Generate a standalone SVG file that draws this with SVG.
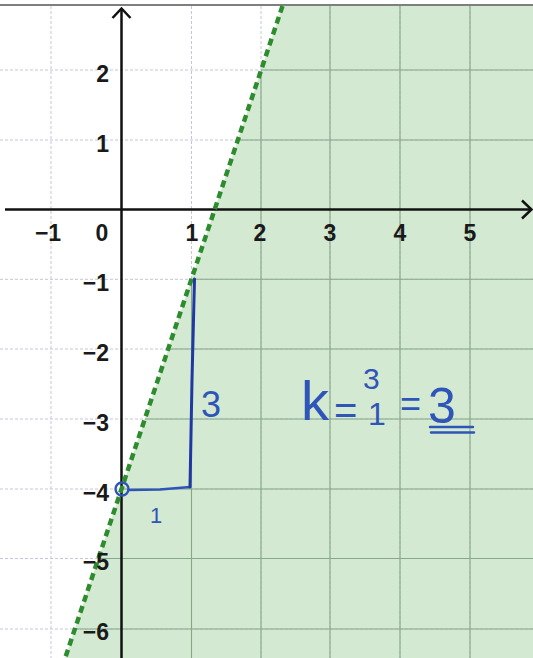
<svg xmlns="http://www.w3.org/2000/svg" width="533" height="658" viewBox="0 0 533 658">
  <defs>
    <clipPath id="shadeClip">
      <polygon points="282.5,6 533,6 533,658 65.2,658"/>
    </clipPath>
    <style>
      .gridW { stroke: #c3c6dc; stroke-width: 1; stroke-dasharray: 3 2; fill: none; }
      .gridG { stroke: #86a886; stroke-width: 1.1; fill: none; }
      .axis { stroke: #111; stroke-width: 2.5; fill: none; }
      .lbl { font-family: "Liberation Sans", Arial, sans-serif; font-weight: bold; font-size: 23px; fill: #1a1a1a; }
      .hand { font-family: "Liberation Sans", Arial, sans-serif; font-weight: 300; fill: #2f55b8; }
      .pen { stroke: #2f55b8; stroke-width: 2.4; fill: none; stroke-linecap: round; }
    </style>
  </defs>
  <rect x="0" y="0" width="533" height="658" fill="#ffffff"/>
  <g id="shaded-region">
    <polygon points="282.5,6 533,6 533,658 65.2,658" fill="#d3e9d1"/>
  </g>
  <g id="grid">
    <g class="gridW">
      <path d="M51,6V658 M191.5,6V658 M261,6V658 M330,6V658 M400,6V658 M470,6V658"/>
      <path d="M0,70H533 M0,140H533 M0,279.3H533 M0,349H533 M0,419H533 M0,489H533 M0,558.5H533 M0,629H533"/>
    </g>
    <g class="gridG" clip-path="url(#shadeClip)">
      <path d="M51,6V658 M191.5,6V658 M261,6V658 M330,6V658 M400,6V658 M470,6V658"/>
      <path d="M0,70H533 M0,140H533 M0,279.3H533 M0,349H533 M0,419H533 M0,489H533 M0,558.5H533 M0,629H533"/>
    </g>
  </g>
  <g id="frame">
    <line x1="0" y1="5" x2="533" y2="5" stroke="#555" stroke-width="1.6"/>
  </g>
  <g id="connectors">
    <g id="x-axis">
      <line class="axis" x1="5" y1="209.5" x2="531" y2="209.5"/>
      <polyline class="axis" points="522,200.5 531.5,209.5 522,218.5"/>
    </g>
    <g id="y-axis">
      <line class="axis" x1="121.5" y1="658" x2="121.5" y2="9"/>
      <polyline class="axis" points="112.5,18 121.5,8.5 130.5,18"/>
    </g>
    <g id="boundary-line">
      <line x1="282.5" y1="6" x2="65.2" y2="658" stroke="#2d8c2d" stroke-width="4.5" stroke-dasharray="7 4.5"/>
    </g>
    <g id="slope-triangle">
      <circle class="pen" cx="122" cy="489" r="6.5"/>
      <path class="pen" d="M128.5,490 L160,489.5 L190,487"/>
      <path d="M190,487 L192,380 L194.5,279" stroke="#1f38a3" stroke-width="3" fill="none" stroke-linecap="round"/>
    </g>
  </g>
  <g id="x-labels" class="lbl" text-anchor="middle">
    <text x="48" y="241">−1</text>
    <text x="102" y="241">0</text>
    <text x="192" y="241">1</text>
    <text x="260" y="241">2</text>
    <text x="330" y="241">3</text>
    <text x="400" y="241">4</text>
    <text x="470" y="241">5</text>
  </g>
  <g id="y-labels" class="lbl" text-anchor="end">
    <text x="109" y="82">2</text>
    <text x="109" y="152">1</text>
    <text x="109" y="291">−1</text>
    <text x="109" y="361">−2</text>
    <text x="109" y="431">−3</text>
    <text x="109" y="501">−4</text>
    <text x="109" y="570">−5</text>
    <text x="109" y="640">−6</text>
  </g>
  <g id="handwriting">
    <text class="hand" x="201" y="417" font-size="36">3</text>
    <text class="hand" x="150" y="523" font-size="22">1</text>
    <text class="hand" x="301" y="420" font-size="56">k</text>
    <text class="hand" x="334" y="424" font-size="40">=</text>
    <text class="hand" x="363" y="389" font-size="30">3</text>
    <text class="hand" x="368" y="425" font-size="32">1</text>
    <text class="hand" x="400" y="416" font-size="36">=</text>
    <text class="hand" x="428" y="423" font-size="50">3</text>
    <path class="pen" d="M430,427 L473,427 M431,432.5 L474,432.5"/>
  </g>
</svg>
